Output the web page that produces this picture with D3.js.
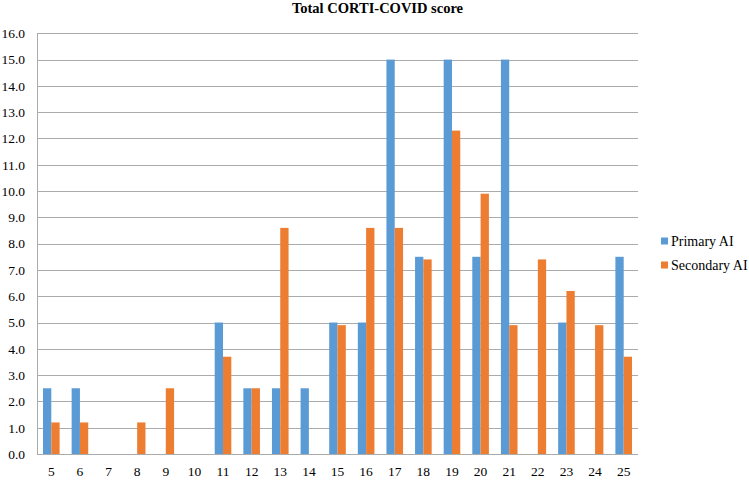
<!DOCTYPE html>
<html>
<head>
<meta charset="utf-8">
<script src="https://cdn.jsdelivr.net/npm/d3@7"></script>
<style>
  body { margin: 0; background: #fff; }
  text { font-family: "Liberation Serif", "Times New Roman", serif; }
</style>
</head>
<body>
<script>
var categories = ["5","6","7","8","9","10","11","12","13","14","15","16","17","18","19","20","21","22","23","24","25"];
var primaryAI = [2.5,2.5,0,0,0,0,5.0,2.5,2.5,2.5,5.0,5.0,15.0,7.5,15.0,7.5,15.0,0,5.0,0,7.5];
var secondaryAI = [1.2,1.2,0,1.2,2.5,0,3.7,2.5,8.6,0,4.9,8.6,8.6,7.4,12.3,9.9,4.9,7.4,6.2,4.9,3.7];
var seriesNames = ["Primary AI", "Secondary AI"];
var yTicks = [0,1,2,3,4,5,6,7,8,9,10,11,12,13,14,15,16];

var w = 749;
var h = 481;
var plotLeft = 37, plotRight = 638, plotTop = 33.3, plotBottom = 454;
var colors = ["#5B9BD5", "#ED7D31"];

var svg = d3.select("body")
            .append("svg")
            .attr("width", w)
            .attr("height", h);

var yScale = d3.scaleLinear()
  .domain([0, 16])
  .range([plotBottom, plotTop]);

var x0 = d3.scaleBand()
  .domain(categories)
  .range([plotLeft, plotRight])
  .paddingInner(0.42)
  .paddingOuter(0.21);

var x1 = d3.scaleBand()
  .domain(seriesNames)
  .range([0, x0.bandwidth()]);

// gridlines
svg.append("g")
  .selectAll("line")
  .data(yTicks)
  .enter()
  .append("line")
  .attr("x1", plotLeft)
  .attr("x2", plotRight)
  .attr("y1", function(d) { return Math.round(yScale(d)) + 0.5; })
  .attr("y2", function(d) { return Math.round(yScale(d)) + 0.5; })
  .attr("stroke", "#ABABAB")
  .attr("stroke-width", 1);

// y axis labels
var yAxis = svg.append("g")
  .attr("transform", "translate(" + plotLeft + ",0)")
  .call(d3.axisLeft(yScale).tickValues(yTicks).tickFormat(d3.format(".1f")).tickSize(0).tickPadding(12));
yAxis.select(".domain").remove();
yAxis.selectAll("text")
  .style("font-family", "Liberation Serif")
  .style("font-size", "13.5px")
  .attr("fill", "#000");

// left vertical line
svg.append("line")
  .attr("x1", plotLeft + 0.5).attr("x2", plotLeft + 0.5)
  .attr("y1", plotTop).attr("y2", plotBottom)
  .attr("stroke", "#ABABAB");

// bars
var data = categories.map(function(c, i) {
  return { cat: c, vals: [primaryAI[i], secondaryAI[i]] };
});

var groups = svg.selectAll(".grp")
  .data(data)
  .enter()
  .append("g")
  .attr("class", "grp")
  .attr("transform", function(d) { return "translate(" + x0(d.cat) + ",0)"; });

groups.selectAll("rect")
  .data(function(d) { return d.vals.map(function(v, j) { return { name: seriesNames[j], v: v, j: j }; }); })
  .enter()
  .append("rect")
  .attr("x", function(d) { return x1(d.name); })
  .attr("y", function(d) { return yScale(d.v); })
  .attr("width", x1.bandwidth())
  .attr("height", function(d) { return plotBottom - yScale(d.v); })
  .attr("fill", function(d) { return colors[d.j]; });

// x axis
var xAxis = svg.append("g")
  .attr("transform", "translate(0," + plotBottom + ")")
  .call(d3.axisBottom(x0).tickSize(0).tickPadding(12));
xAxis.select(".domain").attr("stroke", "#ABABAB").attr("d", "M" + plotLeft + ",0.5H" + plotRight);
xAxis.selectAll("text")
  .style("font-family", "Liberation Serif")
  .style("font-size", "13.5px")
  .attr("fill", "#000");

// title
svg.append("text")
  .attr("x", 377.5)
  .attr("y", 13)
  .attr("text-anchor", "middle")
  .style("font-size", "14.5px")
  .style("font-weight", "bold")
  .text("Total CORTI-COVID score");

// legend
var legend = svg.selectAll(".leg")
  .data(seriesNames)
  .enter()
  .append("g")
  .attr("class", "leg")
  .attr("transform", function(d, i) { return "translate(661," + (237.5 + i * 24) + ")"; });

legend.append("rect")
  .attr("width", 7)
  .attr("height", 7)
  .attr("fill", function(d, i) { return colors[i]; });

legend.append("text")
  .attr("x", 10)
  .attr("y", 8.5)
  .style("font-size", "14px")
  .text(function(d) { return d; });
</script>
</body>
</html>
